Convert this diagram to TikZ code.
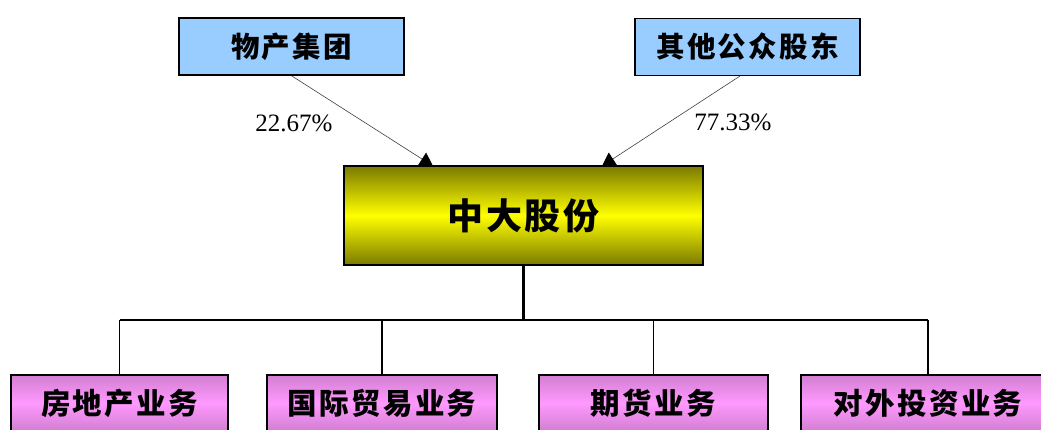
\documentclass[tikz,border=0pt]{standalone}
\usepackage{fontspec}
\setmainfont{Liberation Serif}
\newfontfamily\cjk[LetterSpace=8]{Noto Sans CJK SC}
\usetikzlibrary{arrows.meta,calc}
\definecolor{blueC}{HTML}{99CCFF}
\definecolor{oliveC}{HTML}{7A7A00}
\definecolor{yellowC}{HTML}{FFFF00}
\definecolor{violetC}{HTML}{D27ED2}
\definecolor{pinkC}{HTML}{FF99FF}
\begin{document}
\begin{tikzpicture}[x=1pt,y=-1pt,
  box/.style={draw=black,line width=1.5pt,rectangle,inner sep=0pt},
  topbox/.style={box,fill=blueC,minimum width=225pt,minimum height=57pt,
    font=\cjk\bfseries\fontsize{28.5}{32}\selectfont},
  mainbox/.style={box,top color=oliveC,bottom color=oliveC,middle color=yellowC,
    minimum width=359pt,minimum height=99pt,font=\cjk\bfseries\fontsize{36}{40}\selectfont},
  subbox/.style={box,top color=violetC,bottom color=violetC,middle color=pinkC,
    minimum height=56pt,font=\cjk\bfseries\fontsize{29.5}{33}\selectfont},
  pct/.style={font=\fontsize{25}{28}\selectfont,inner sep=0pt},
  share/.style={draw=black!75,line width=0.6pt,-{Triangle[width=15pt,length=13pt,color=black]}},
  tree/.style={draw=black,line width=1.2pt}
]
\useasboundingbox (0,0) rectangle (1041,429);
\clip (0,0) rectangle (1041,429);
\fill[white] (0,0) rectangle (1041,429);

\node[topbox] (wc) at (291.5,46.5) {物产集团};
\node[topbox] (qt) at (747.5,47) {其他公众股东};
\node[mainbox] (zd) at (523.5,215.5) {中大股份};

\node[subbox,minimum width=217pt] (b1) at (119.5,403) {房地产业务};
\node[subbox,minimum width=230pt] (b2) at (382,403) {国际贸易业务};
\node[subbox,minimum width=229pt] (b3) at (653.5,403) {期货业务};
\node[subbox,minimum width=254pt] (b4) at (928,403) {对外投资业务};

\node[pct] (p1) at (294,123) {22.67\%};
\node[pct] (p2) at (733,122) {77.33\%};

\coordinate (t1) at (433,166);
\coordinate (t2) at (602,166);
\coordinate (s2) at (740,76);
\draw[share] (wc.south) -- (t1);
\draw[share] (s2) -- (t2);

\coordinate (hub) at (523.5,320);
\draw[draw=black,line width=2.6pt] (zd.south) -- (hub);
\draw[tree] (b1.north |- hub) -- (b4.north |- hub);
\foreach \b in {b1,b2,b3,b4}{
  \draw[tree] (\b.north |- hub) -- (\b.north);
}
\end{tikzpicture}
\end{document}
